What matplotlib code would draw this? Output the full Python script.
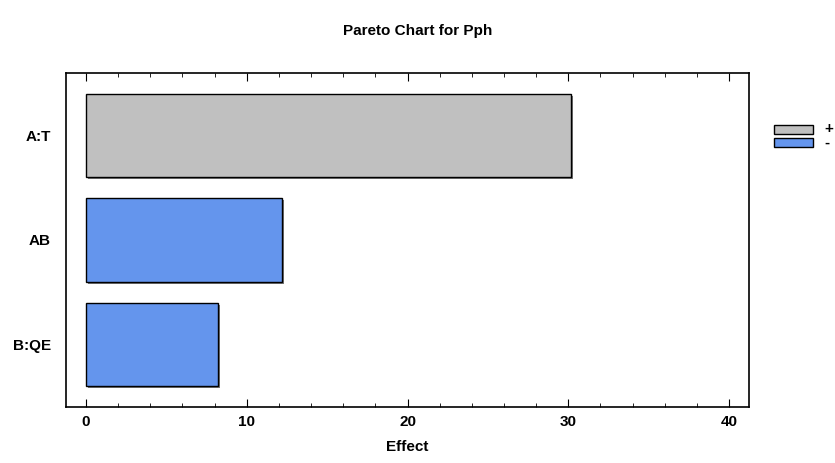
import matplotlib
matplotlib.use('Agg')
import matplotlib.pyplot as plt
from matplotlib.patches import Rectangle
import matplotlib.patheffects as pe

# data
factors = ['B:QE', 'AB', 'A:T']
effects = [8.21, 12.19, 30.17]
signs = ['-', '-', '+']
colors = {'+': '#C0C0C0', '-': '#6495ED'}

plt.rcParams['font.family'] = ['Liberation Sans', 'DejaVu Sans']
plt.rcParams['font.weight'] = 'bold'

fig = plt.figure(figsize=(8.35, 4.63), dpi=100)
ax = fig.add_axes([66/835, 1-407/463, (749-66)/835, (407-73)/463])

shadow = [pe.SimplePatchShadow(offset=(1.5, -1.5), shadow_rgbFace='#555555', alpha=0.8), pe.Normal()]
for i, (f, e, s) in enumerate(zip(factors, effects, signs)):
    ax.barh(i, e, height=0.8, left=0, color=colors[s], edgecolor='black', linewidth=1,
            path_effects=shadow)

ax.set_xlim(-1.24, 41.24)
ax.set_ylim(-0.6, 2.6)
ax.set_yticks(range(len(factors)))
ax.set_yticklabels(factors, fontsize=11, fontweight='bold')
ax.tick_params(axis='y', length=0, pad=11)
ax.set_xticks([0, 10, 20, 30, 40])
ax.set_xticks([2, 4, 6, 8, 12, 14, 16, 18, 22, 24, 26, 28, 32, 34, 36, 38], minor=True)
ax.tick_params(axis='x', which='major', direction='in', length=6, top=True, labelsize=11, pad=6)
ax.tick_params(axis='x', which='minor', direction='in', length=3, top=True)
for lab in ax.get_xticklabels():
    lab.set_fontweight('bold')
for sp in ax.spines.values():
    sp.set_linewidth(1.2)
ax.set_xlabel('Effect', fontsize=11, fontweight='bold', labelpad=8)

fig.text(0.5, 1-31/463, 'Pareto Chart for Pph', ha='center', va='center',
         fontsize=11, fontweight='bold')

# legend
for y0, s in [(125, '+'), (138, '-')]:
    r = Rectangle((774/835, 1-(y0+9)/463), 39/835, 9/463, transform=fig.transFigure,
                  facecolor=colors[s], edgecolor='black', linewidth=1)
    fig.patches.append(r)
    fig.text(824/835, 1-(y0+4.5)/463, s, ha='left', va='center', fontsize=11, fontweight='bold')

fig.savefig('out.png', dpi=100)
